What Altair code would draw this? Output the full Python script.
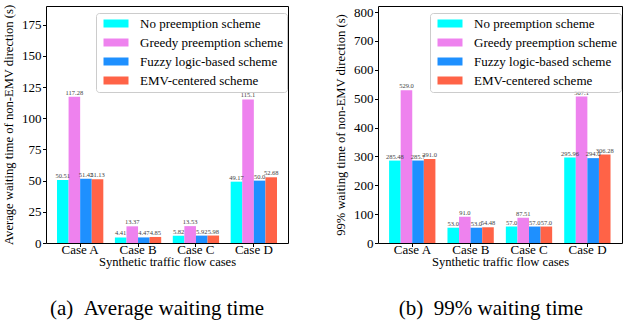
import altair as alt
import pandas as pd

FONT = "Liberation Serif"

cases = ["Case A", "Case B", "Case C", "Case D"]
schemes = ["No preemption scheme", "Greedy preemption scheme",
           "Fuzzy logic-based scheme", "EMV-centered scheme"]
colors = ["#00FFFF", "#EE82EE", "#1E90FF", "#FF6347"]

avg_no = [50.51, 4.41, 5.82, 49.17]
avg_greedy = [117.28, 13.37, 13.53, 115.1]
avg_fuzzy = [51.42, 4.47, 5.92, 50.0]
avg_emv = [51.13, 4.85, 5.98, 52.68]

p99_no = [285.48, 53.0, 57.0, 295.96]
p99_greedy = [529.0, 91.0, 87.51, 507.1]
p99_fuzzy = [285.7, 53.0, 57.0, 294.0]
p99_emv = [291.0, 54.48, 57.0, 306.28]

avg_ticks = [0, 25, 50, 75, 100, 125, 150, 175]
p99_ticks = [0, 100, 200, 300, 400, 500, 600, 700, 800]


def make_df(series):
    rows = []
    for s, vals in zip(schemes, series):
        for c, v in zip(cases, vals):
            rows.append({"case": c, "scheme": s, "value": v, "label": str(v)})
    return pd.DataFrame(rows)


SYMBOL = "M-0.6,-0.8H4.4V0.8H-0.6Z"

AX = dict(labelFont=FONT, titleFont=FONT, labelFontSize=13, titleFontSize=12.6,
          labelColor="black", titleColor="black", tickColor="black",
          domain=False, tickSize=3.5, titleFontWeight="normal", grid=False)


def panel(df, ytitle, ymax, yticks, caption, lx, ly, width, dx):
    x = alt.X("case:N", sort=cases, title="Synthetic traffic flow cases",
              scale=alt.Scale(paddingInner=0.2, paddingOuter=0.19),
              axis=alt.Axis(labelAngle=0, labelPadding=-3, titlePadding=-1, **AX))
    xo = alt.XOffset("scheme:N", sort=schemes,
                     scale=alt.Scale(paddingInner=0, paddingOuter=0))
    y = alt.Y("value:Q", scale=alt.Scale(domain=[0, ymax], nice=False),
              axis=alt.Axis(values=yticks, title=ytitle, labelOverlap=False,
                            labelPadding=1.5, titlePadding=6, **AX))
    color = alt.Color("scheme:N", sort=schemes,
                      scale=alt.Scale(domain=schemes, range=colors),
                      legend=alt.Legend(title=None, orient="none",
                                        legendX=lx, legendY=ly,
                                        symbolType=SYMBOL, symbolSize=100,
                                        symbolStrokeWidth=0,
                                        labelFont=FONT, labelFontSize=13,
                                        labelColor="black", labelLimit=400,
                                        labelOffset=27,
                                        strokeColor="#cccccc",
                                        fillColor="rgba(255,255,255,0.8)",
                                        padding=4, cornerRadius=3,
                                        rowPadding=5))
    base = alt.Chart(df).encode(x=x, xOffset=xo, y=y)
    bars = base.mark_bar(strokeWidth=0).encode(color=color)
    text = base.mark_text(baseline="bottom", dy=-1, fontSize=6.5,
                          color="#444444", font=FONT).encode(text="label:N")
    return alt.layer(bars, text).properties(
        width=width, height=237,
        title=alt.TitleParams(caption, orient="bottom", anchor="middle",
                              frame="group", dx=dx, offset=30, font=FONT,
                              fontSize=21, fontWeight="normal", color="black"))


left = panel(make_df([avg_no, avg_greedy, avg_fuzzy, avg_emv]),
             "Average waiting time of non-EMV direction (s)", 190, avg_ticks,
             "(a)\u00a0\u00a0Average waiting time", 50, 7, 242, -10)
right = panel(make_df([p99_no, p99_greedy, p99_fuzzy, p99_emv]),
              "99% waiting time of non-EMV direction (s)", 821, p99_ticks,
              "(b)\u00a0\u00a099% waiting time", 52, 7, 244, -9)

chart = alt.hconcat(left, right, spacing=45).resolve_scale(
    y="independent").resolve_legend(color="independent").properties(
    padding={"left": 1, "top": 3, "right": 0, "bottom": 0}
).configure_view(stroke="black", strokeWidth=1)

chart.save("out.html", embed_options={"renderer": "svg", "actions": False})
